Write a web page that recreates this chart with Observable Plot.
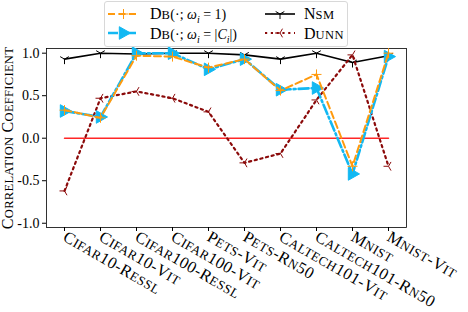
<!DOCTYPE html>
<html><head><meta charset="utf-8">
<script src="https://cdn.jsdelivr.net/npm/d3@7"></script>
<script src="https://cdn.jsdelivr.net/npm/@observablehq/plot@0.6"></script>
<style>
body{margin:0;background:#fff;}
#wrap{position:relative;width:468px;height:312px;font-family:"Liberation Serif",serif;}
#legend{position:absolute;left:104px;top:1px;width:244px;height:46px;border:1px solid #d8d8d8;border-radius:3px;background:rgba(255,255,255,0.85);box-sizing:border-box;}
#legend .t{position:absolute;font-size:14px;white-space:nowrap;line-height:16px;}
.b{font-size:16px;} .s{font-size:12.5px;letter-spacing:0.4px;}
#legend svg{position:absolute;left:0;top:0;}
</style>
</head><body>
<div id="wrap"><div id="chart"></div>
<div id="legend">
<svg width="244" height="46"></svg>
<span class="t" style="left:45px;top:4px;"><span class="b">D</span><span class="s">B</span>(·; <i>ω</i><sub style="font-size:10px;"><i>i</i></sub> = 1)</span>
<span class="t" style="left:45px;top:24px;"><span class="b">D</span><span class="s">B</span>(·; <i>ω</i><sub style="font-size:10px;"><i>i</i></sub> = |<i>C</i><sub style="font-size:10px;"><i>i</i></sub>|)</span>
<span class="t" style="left:199px;top:4px;"><span class="b">N</span><span class="s">SM</span></span>
<span class="t" style="left:199px;top:24px;"><span class="b">D</span><span class="s">UNN</span></span>
</div>
</div>
<script>
const categories = ["Cifar10-Ressl","Cifar10-Vit","Cifar100-Ressl","Cifar100-Vit","Pets-Vit","Pets-Rn50","Caltech101-Vit","Caltech101-Rn50","Mnist","Mnist-Vit"];
const dbOne = [0.33, 0.24, 0.97, 0.96, 0.83, 0.93, 0.56, 0.75, -0.33, 1.0];
const dbCi  = [0.32, 0.25, 1.0, 1.0, 0.81, 0.93, 0.57, 0.59, -0.42, 0.96];
const nsm   = [0.93, 1.0, 0.99, 1.0, 1.0, 0.98, 0.93, 1.0, 0.89, 0.97];
const dunn  = [-0.62, 0.47, 0.55, 0.47, 0.31, -0.29, -0.18, 0.45, 0.98, -0.33];
const zero  = [0, 0, 0, 0, 0, 0, 0, 0, 0, 0];
const yTicks = [-1, -0.5, 0, 0.5, 1];

const rows = vals => categories.map((c, i) => ({c, v: vals[i]}));
const rad = s => Math.sqrt(s / Math.PI);
const triDown = {draw(ctx, s){const r=rad(s);ctx.moveTo(0,0);ctx.lineTo(0,r);ctx.moveTo(0,0);ctx.lineTo(-0.866*r,-0.5*r);ctx.moveTo(0,0);ctx.lineTo(0.866*r,-0.5*r);}};
const triLeft = {draw(ctx, s){const r=rad(s);ctx.moveTo(0,0);ctx.lineTo(-r,0);ctx.moveTo(0,0);ctx.lineTo(0.5*r,-0.866*r);ctx.moveTo(0,0);ctx.lineTo(0.5*r,0.866*r);}};
const plusSym = {draw(ctx, s){const r=rad(s);ctx.moveTo(-r,0);ctx.lineTo(r,0);ctx.moveTo(0,-r);ctx.lineTo(0,r);}};
const triRight = {draw(ctx, s){const r=rad(s);ctx.moveTo(r,0);ctx.lineTo(-0.6*r,-0.9*r);ctx.lineTo(-0.6*r,0.9*r);ctx.closePath();}};

const C_OR = "#ff9a0e", C_BL = "#12b8f2", C_DU = "#8b0a0a";
const fmt = d => (d < 0 ? "-" : "") + Math.abs(d).toFixed(1);

const chart = Plot.plot({
  width: 468, height: 312,
  marginLeft: 46, marginRight: 62, marginTop: 48, marginBottom: 85,
  x: {type: "point", domain: categories, padding: 0.45},
  y: {domain: [-1.05, 1.055]},
  style: {fontFamily: "'Liberation Serif', 'DejaVu Serif', serif", fontSize: "14px", color: "#000", background: "transparent"},
  marks: [
    Plot.frame({stroke: "#000", strokeWidth: 0.8}),
    Plot.axisY({ticks: yTicks, tickFormat: fmt, tickSize: 4, tickPadding: 3, fontSize: 14, fontVariant: "normal",
      label: "Correlation Coefficient", labelAnchor: "center", labelArrow: "none", labelOffset: 43}),
    Plot.axisX({tickRotate: 30, tickSize: 4, tickPadding: 4, fontSize: 16, label: null}),
    Plot.line(rows(zero), {x: "c", y: "v", stroke: "red", strokeWidth: 1.5, strokeOpacity: 0.85}),
    Plot.line(rows(nsm), {x: "c", y: "v", stroke: "#000", strokeWidth: 1.6}),
    Plot.dot(rows(nsm), {x: "c", y: "v", symbol: triDown, r: 5, fill: "none", stroke: "#000", strokeWidth: 1}),
    Plot.line(rows(dunn), {x: "c", y: "v", stroke: C_DU, strokeWidth: 2.2, strokeDasharray: "2.2,3.6"}),
    Plot.dot(rows(dunn), {x: "c", y: "v", symbol: triLeft, r: 5, fill: "none", stroke: C_DU, strokeWidth: 1}),
    Plot.line(rows(dbCi), {x: "c", y: "v", stroke: C_BL, strokeWidth: 2.6, strokeDasharray: "10,3,2,3"}),
    Plot.dot(rows(dbCi), {x: "c", y: "v", symbol: triRight, r: 7, fill: C_BL, stroke: C_BL, strokeWidth: 1}),
    Plot.line(rows(dbOne), {x: "c", y: "v", stroke: C_OR, strokeWidth: 2, strokeDasharray: "7,3.5"}),
    Plot.dot(rows(dbOne), {x: "c", y: "v", symbol: plusSym, r: 5, fill: "none", stroke: C_OR, strokeWidth: 1})
  ]
});
document.getElementById("chart").appendChild(chart);

const SVGNS = "http://www.w3.org/2000/svg";
// manual small caps: capitals/digits at full size, lowercase as smaller capitals
function smallCaps(el, big, small, spacing) {
  const s = el.textContent;
  el.textContent = "";
  el.setAttribute("letter-spacing", spacing);
  const runs = [];
  for (const ch of s) {
    const low = ch !== ch.toUpperCase();
    if (runs.length && runs[runs.length - 1].low === low) runs[runs.length - 1].t += ch;
    else runs.push({low, t: ch});
  }
  for (const r of runs) {
    const ts = document.createElementNS(SVGNS, "tspan");
    ts.setAttribute("font-size", r.low ? small : big);
    ts.textContent = r.low ? r.t.toUpperCase() : r.t;
    el.appendChild(ts);
  }
}
chart.querySelectorAll('g[aria-label="x-axis tick label"] text').forEach(el => smallCaps(el, 16.5, 13, 0.5));
chart.querySelectorAll('g[aria-label="y-axis label"] text').forEach(el => smallCaps(el, 16, 12.5, 0.3));

// legend samples (drawn with d3)
const lg = d3.select("#legend svg");
const samples = [
  {x1: 3, x2: 34, y: 12, stroke: C_OR, w: 2, dash: "7,3.5", sym: plusSym, r: 5, fill: "none"},
  {x1: 3, x2: 34, y: 31, stroke: C_BL, w: 2.6, dash: "10,3,2,3", sym: triRight, r: 7, fill: C_BL},
  {x1: 160, x2: 190, y: 12, stroke: "#000", w: 1.6, dash: null, sym: triDown, r: 5, fill: "none"},
  {x1: 160, x2: 190, y: 31, stroke: C_DU, w: 2.2, dash: "2.2,3.6", sym: triLeft, r: 5, fill: "none"}
];
for (const s of samples) {
  lg.append("line").attr("x1", s.x1).attr("x2", s.x2).attr("y1", s.y).attr("y2", s.y)
    .attr("stroke", s.stroke).attr("stroke-width", s.w).attr("stroke-dasharray", s.dash);
  lg.append("path").attr("transform", `translate(${(s.x1+s.x2)/2},${s.y})`)
    .attr("d", d3.symbol(s.sym, Math.PI*s.r*s.r)()).attr("fill", s.fill).attr("stroke", s.stroke).attr("stroke-width", 1);
}
</script>
</body></html>
